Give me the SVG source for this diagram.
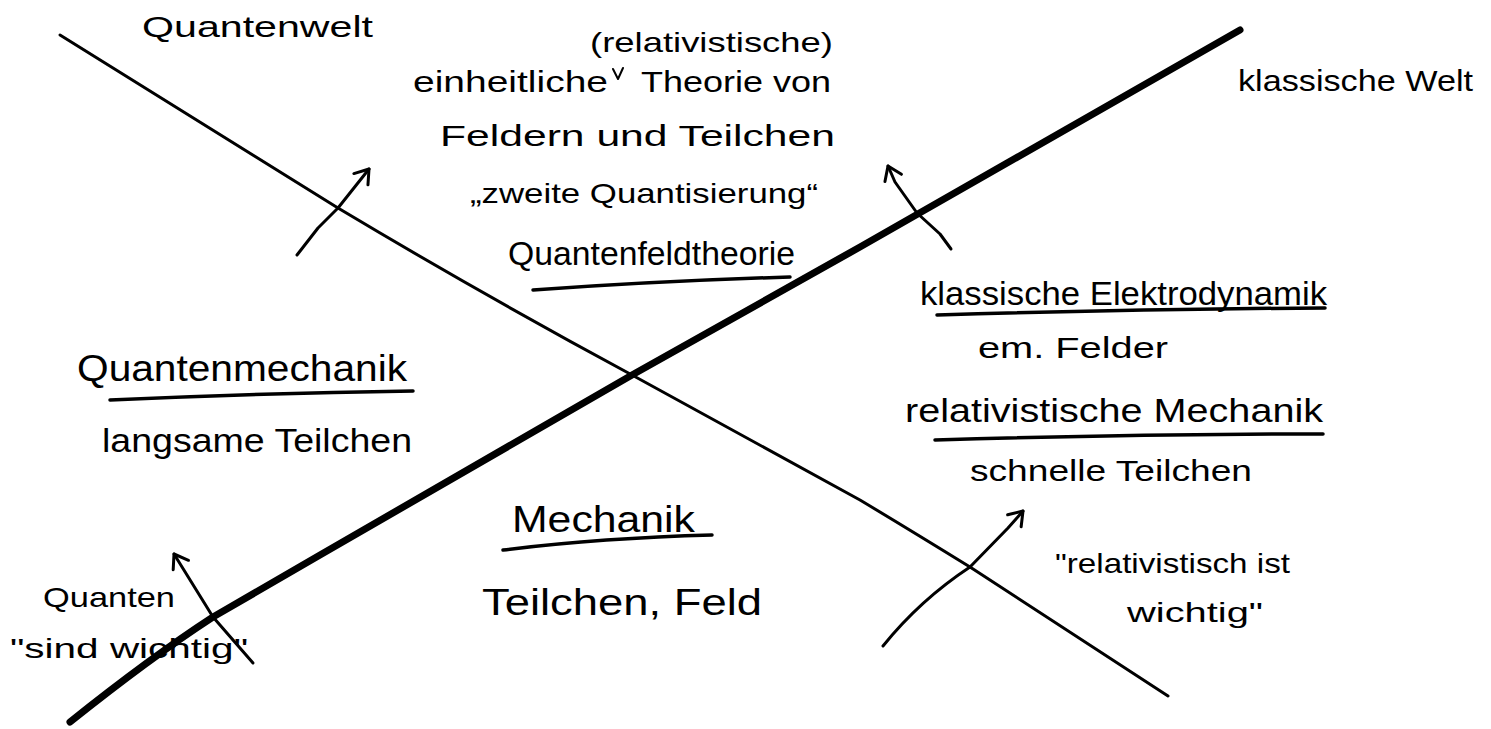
<svg xmlns="http://www.w3.org/2000/svg" width="1491" height="729" viewBox="0 0 1491 729">
<defs>
<style>
.t{font-family:"Liberation Sans",Arial,sans-serif;fill:#000}
.s28{font-size:28px}.s30{font-size:30px}.s34{font-size:34px}.s36{font-size:36px}
.ul{fill:none;stroke:#000;stroke-width:3.5;stroke-linecap:round}
.ln{fill:none;stroke:#000;stroke-linecap:round;stroke-linejoin:round}
.thin{stroke-width:3}
.thick{stroke-width:7}
.arr{stroke-width:3;marker-end:url(#ah)}
</style>
<marker id="ah" markerUnits="userSpaceOnUse" viewBox="-16 -12 18 24" refX="0" refY="0" markerWidth="18" markerHeight="24" orient="auto">
<path d="M-13,-9 L0,0 L-13,9" fill="none" stroke="#000" stroke-width="3" stroke-linecap="round" stroke-linejoin="round"/>
</marker>
</defs>
<rect width="1491" height="729" fill="#fff"/>
<g id="connectors">
<path class="ln thin" d="M60,35 L338,208 Q480,293 632,375 L860,500 Q910,530 970,567 L1168,696"/>
<path class="ln thick" d="M70,722 C110,690 170,645 213,617 L320,555 L632,375 L860,247 L1240,30"/>
<path class="ln arr" d="M297,255 L318,228 L338,208 L369,169"/>
<path class="ln arr" d="M951,249 L940,234 L917,213 L895,182 L888,166"/>
<path class="ln arr" d="M253,663 L213,617 L174,554"/>
<path class="ln arr" d="M883,646 Q920,600 970,567 L1008,528 L1023,511"/>
</g>
<g id="quantenwelt"><text class="t s30" x="142" y="37" textLength="231" lengthAdjust="spacingAndGlyphs">Quantenwelt</text></g>
<g id="klassische-welt"><text class="t s30" x="1238" y="91" textLength="235" lengthAdjust="spacingAndGlyphs">klassische Welt</text></g>
<g id="qft">
<text class="t s28" x="590" y="52" textLength="243" lengthAdjust="spacingAndGlyphs">(relativistische)</text>
<text class="t s30" x="413" y="92" textLength="195" lengthAdjust="spacingAndGlyphs">einheitliche</text>
<path class="ln" stroke-width="2" d="M613,69 L618,79 L623,68"/>
<text class="t s30" x="641" y="92" textLength="190" lengthAdjust="spacingAndGlyphs">Theorie von</text>
<text class="t s30" x="440" y="146" textLength="395" lengthAdjust="spacingAndGlyphs">Feldern und Teilchen</text>
<text class="t s28" x="470" y="203" textLength="348" lengthAdjust="spacingAndGlyphs">„zweite Quantisierung“</text>
<text class="t s34" x="508" y="265" textLength="287" lengthAdjust="spacingAndGlyphs">Quantenfeldtheorie</text>
<path class="ul" d="M533,290 Q660,281 790,277"/>
</g>
<g id="elektrodynamik">
<text class="t s34" x="920" y="305" textLength="407" lengthAdjust="spacingAndGlyphs">klassische Elektrodynamik</text>
<path class="ul" d="M937,315 Q1130,309 1325,308"/>
<text class="t s30" x="978" y="358" textLength="190" lengthAdjust="spacingAndGlyphs">em. Felder</text>
</g>
<g id="rel-mechanik">
<text class="t s34" x="905" y="422" textLength="418" lengthAdjust="spacingAndGlyphs">relativistische Mechanik</text>
<path class="ul" d="M935,440 Q1130,434 1323,434"/>
<text class="t s30" x="970" y="481" textLength="282" lengthAdjust="spacingAndGlyphs">schnelle Teilchen</text>
</g>
<g id="quantenmechanik">
<text class="t s36" x="77" y="381" textLength="330" lengthAdjust="spacingAndGlyphs">Quantenmechanik</text>
<path class="ul" d="M110,400 Q260,393 413,391"/>
<text class="t s34" x="102" y="452" textLength="310" lengthAdjust="spacingAndGlyphs">langsame Teilchen</text>
</g>
<g id="mechanik">
<text class="t s36" x="512" y="532" textLength="183" lengthAdjust="spacingAndGlyphs">Mechanik</text>
<path class="ul" d="M503,550 Q600,538 712,535"/>
<text class="t s36" x="482" y="615" textLength="280" lengthAdjust="spacingAndGlyphs">Teilchen, Feld</text>
</g>
<g id="quanten-wichtig">
<text class="t s28" x="43" y="607" textLength="132" lengthAdjust="spacingAndGlyphs">Quanten</text>
<text class="t s28" x="10" y="658" textLength="238" lengthAdjust="spacingAndGlyphs">"sind wichtig"</text>
</g>
<g id="relativistisch-wichtig">
<text class="t s28" x="1055" y="573" textLength="235" lengthAdjust="spacingAndGlyphs">"relativistisch ist</text>
<text class="t s28" x="1127" y="622" textLength="136" lengthAdjust="spacingAndGlyphs">wichtig"</text>
</g>
</svg>
